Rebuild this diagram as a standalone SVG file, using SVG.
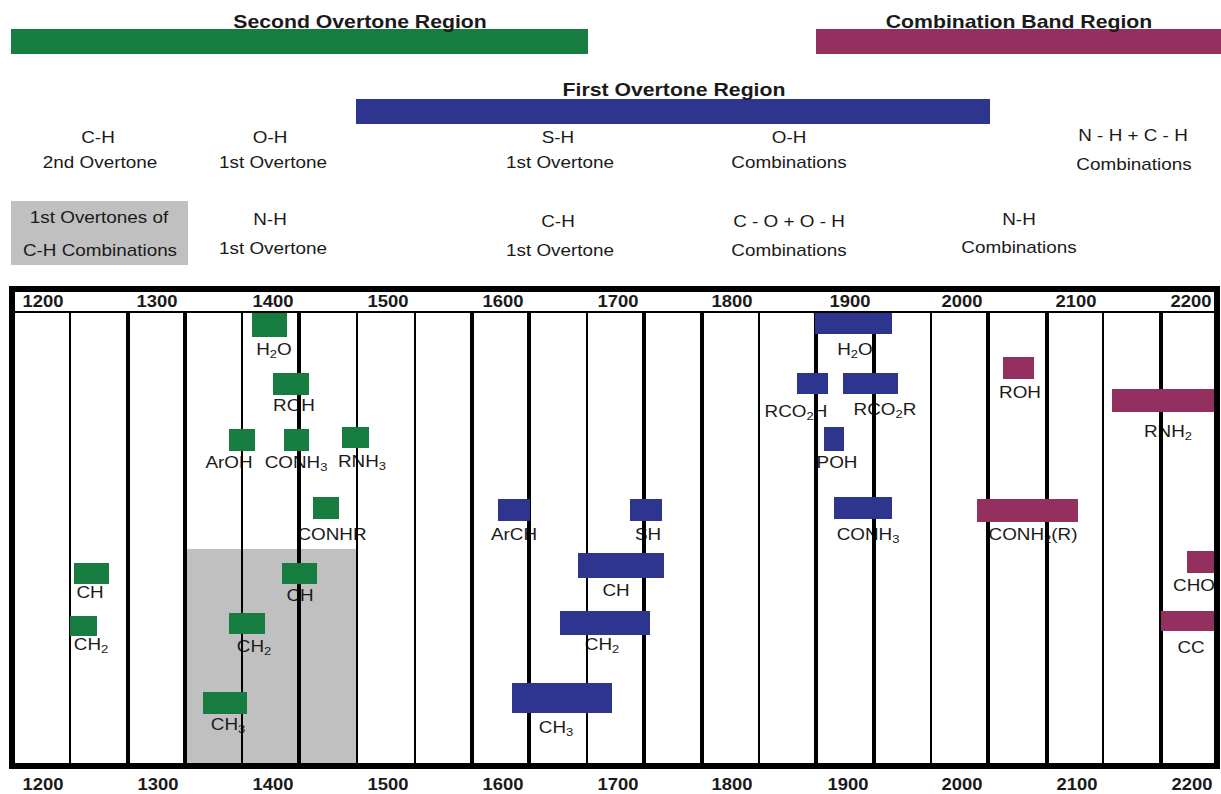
<svg xmlns="http://www.w3.org/2000/svg" width="1221" height="794" viewBox="0 0 1221 794">
<style>
text{font-family:"Liberation Sans",Arial,sans-serif;fill:#1a1a1a;text-anchor:middle}
.t{font-size:18px;font-weight:bold}
.l{font-size:16px}
.n{font-size:16px;font-weight:bold}
.s{font-size:11px}
.g{fill:#177c3f}
.b{fill:#2e358f}
.m{fill:#93305f}
.thin{stroke:#000;stroke-width:2}
.thick{stroke:#000;stroke-width:4}
</style>
<rect width="1221" height="794" fill="#fff"/>

<g id="regions">
  <g id="second-overtone">
    <rect class="g" x="11" y="29" width="577" height="25"/>
    <text class="t" transform="translate(360,28) scale(1.18,1)">Second Overtone Region</text>
  </g>
  <g id="combination-band">
    <rect class="m" x="816" y="29" width="405" height="25"/>
    <text class="t" transform="translate(1019,28) scale(1.18,1)">Combination Band Region</text>
  </g>
  <g id="first-overtone">
    <rect class="b" x="356" y="99" width="634" height="25"/>
    <text class="t" transform="translate(674,96) scale(1.18,1)">First Overtone Region</text>
  </g>
</g>

<g id="assignments">
  <g id="ch-2nd"><text class="l" transform="translate(98,143) scale(1.18,1)">C-H</text><text class="l" transform="translate(100,168) scale(1.18,1)">2nd Overtone</text></g>
  <g id="oh-1st"><text class="l" transform="translate(270,143) scale(1.18,1)">O-H</text><text class="l" transform="translate(273,168) scale(1.18,1)">1st Overtone</text></g>
  <g id="sh-1st"><text class="l" transform="translate(558,143) scale(1.18,1)">S-H</text><text class="l" transform="translate(560,168) scale(1.18,1)">1st Overtone</text></g>
  <g id="oh-comb"><text class="l" transform="translate(789,143) scale(1.18,1)">O-H</text><text class="l" transform="translate(789,168) scale(1.18,1)">Combinations</text></g>
  <g id="nhch-comb"><text class="l" transform="translate(1133,141) scale(1.18,1)">N - H + C - H</text><text class="l" transform="translate(1134,170) scale(1.18,1)">Combinations</text></g>
  <g id="ch-comb-1st">
    <rect x="11" y="201" width="177" height="64" fill="#c0c0c0"/>
    <text class="l" transform="translate(99,223) scale(1.18,1)">1st Overtones of</text>
    <text class="l" transform="translate(100,256) scale(1.18,1)">C-H Combinations</text>
  </g>
  <g id="nh-1st"><text class="l" transform="translate(270,225) scale(1.18,1)">N-H</text><text class="l" transform="translate(273,254) scale(1.18,1)">1st Overtone</text></g>
  <g id="ch-1st"><text class="l" transform="translate(558,227) scale(1.18,1)">C-H</text><text class="l" transform="translate(560,256) scale(1.18,1)">1st Overtone</text></g>
  <g id="cooh-comb"><text class="l" transform="translate(789,227) scale(1.18,1)">C - O + O - H</text><text class="l" transform="translate(789,256) scale(1.18,1)">Combinations</text></g>
  <g id="nh-comb"><text class="l" transform="translate(1019,225) scale(1.18,1)">N-H</text><text class="l" transform="translate(1019,253) scale(1.18,1)">Combinations</text></g>
</g>

<g id="chart">
  <rect x="187" y="549" width="171" height="216" fill="#c0c0c0"/>
  <g id="band-labels">
    <text class="l" transform="translate(274,355) scale(1.18,1)">H<tspan class="s" dy="3">2</tspan><tspan dy="-3">O</tspan></text>
    <text class="l" transform="translate(294,411) scale(1.18,1)">ROH</text>
    <text class="l" transform="translate(229,468) scale(1.18,1)">ArOH</text>
    <text class="l" transform="translate(296,468) scale(1.18,1)">CONH<tspan class="s" dy="3">3</tspan></text>
    <text class="l" transform="translate(362,467) scale(1.18,1)">RNH<tspan class="s" dy="3">3</tspan></text>
    <text class="l" transform="translate(332,540) scale(1.18,1)">CONHR</text>
    <text class="l" transform="translate(90,598) scale(1.18,1)">CH</text>
    <text class="l" transform="translate(91,650) scale(1.18,1)">CH<tspan class="s" dy="3">2</tspan></text>
    <text class="l" transform="translate(300,601) scale(1.18,1)">CH</text>
    <text class="l" transform="translate(254,652) scale(1.18,1)">CH<tspan class="s" dy="3">2</tspan></text>
    <text class="l" transform="translate(228,730) scale(1.18,1)">CH<tspan class="s" dy="3">3</tspan></text>
    <text class="l" transform="translate(514,540) scale(1.18,1)">ArCH</text>
    <text class="l" transform="translate(648,540) scale(1.18,1)">SH</text>
    <text class="l" transform="translate(616,596) scale(1.18,1)">CH</text>
    <text class="l" transform="translate(602,650) scale(1.18,1)">CH<tspan class="s" dy="3">2</tspan></text>
    <text class="l" transform="translate(556,733) scale(1.18,1)">CH<tspan class="s" dy="3">3</tspan></text>
    <text class="l" transform="translate(855,355) scale(1.18,1)">H<tspan class="s" dy="3">2</tspan><tspan dy="-3">O</tspan></text>
    <text class="l" transform="translate(796,417) scale(1.18,1)">RCO<tspan class="s" dy="3">2</tspan><tspan dy="-3">H</tspan></text>
    <text class="l" transform="translate(885,415) scale(1.18,1)">RCO<tspan class="s" dy="3">2</tspan><tspan dy="-3">R</tspan></text>
    <text class="l" transform="translate(837,468) scale(1.18,1)">POH</text>
    <text class="l" transform="translate(868,540) scale(1.18,1)">CONH<tspan class="s" dy="3">3</tspan></text>
    <text class="l" transform="translate(1020,398) scale(1.18,1)">ROH</text>
    <text class="l" transform="translate(1168,437) scale(1.18,1)">RNH<tspan class="s" dy="3">2</tspan></text>
    <text class="l" transform="translate(1033,540) scale(1.18,1)">CONH<tspan class="s" dy="3">2</tspan><tspan dy="-3">(R)</tspan></text>
    <text class="l" transform="translate(1194,591) scale(1.18,1)">CHO</text>
    <text class="l" transform="translate(1191,653) scale(1.18,1)">CC</text>
  </g>

  <g id="grid">
    <line class="thin" x1="70" y1="312" x2="70" y2="765"/>
    <line class="thick" x1="128" y1="312" x2="128" y2="765"/>
    <line class="thick" x1="185" y1="312" x2="185" y2="765"/>
    <line class="thin" x1="242" y1="312" x2="242" y2="765"/>
    <line class="thick" x1="299" y1="312" x2="299" y2="765"/>
    <line class="thin" x1="357" y1="312" x2="357" y2="765"/>
    <line class="thin" x1="415" y1="312" x2="415" y2="765"/>
    <line class="thick" x1="472" y1="312" x2="472" y2="765"/>
    <line class="thick" x1="529" y1="312" x2="529" y2="765"/>
    <line class="thin" x1="587" y1="312" x2="587" y2="765"/>
    <line class="thick" x1="644" y1="312" x2="644" y2="765"/>
    <line class="thick" x1="702" y1="312" x2="702" y2="765"/>
    <line class="thin" x1="759" y1="312" x2="759" y2="765"/>
    <line class="thick" x1="816" y1="312" x2="816" y2="765"/>
    <line class="thick" x1="874" y1="312" x2="874" y2="765"/>
    <line class="thin" x1="931" y1="312" x2="931" y2="765"/>
    <line class="thick" x1="988" y1="312" x2="988" y2="765"/>
    <line class="thick" x1="1047" y1="312" x2="1047" y2="765"/>
    <line class="thin" x1="1103" y1="312" x2="1103" y2="765"/>
    <line class="thick" x1="1161" y1="312" x2="1161" y2="765"/>
    <line class="thin" x1="14" y1="312" x2="1216" y2="312"/>
  </g>

  <g id="bands">
    <rect id="b-h2o-g" class="g" x="252" y="313" width="35" height="24"/>
    <rect id="b-roh-g" class="g" x="273" y="373" width="36" height="22"/>
    <rect id="b-aroh-g" class="g" x="229" y="429" width="26" height="22"/>
    <rect id="b-conh3-g" class="g" x="284" y="429" width="25" height="22"/>
    <rect id="b-rnh3-g" class="g" x="342" y="427" width="27" height="21"/>
    <rect id="b-conhr-g" class="g" x="313" y="497" width="26" height="22"/>
    <rect id="b-ch-g1" class="g" x="74" y="563" width="35" height="21"/>
    <rect id="b-ch2-g1" class="g" x="70" y="616" width="27" height="20"/>
    <rect id="b-ch-g2" class="g" x="282" y="563" width="35" height="21"/>
    <rect id="b-ch2-g2" class="g" x="229" y="613" width="36" height="21"/>
    <rect id="b-ch3-g" class="g" x="203" y="692" width="44" height="22"/>
    <rect id="b-arch-b" class="b" x="498" y="499" width="32" height="22"/>
    <rect id="b-sh-b" class="b" x="630" y="499" width="32" height="22"/>
    <rect id="b-ch-b" class="b" x="578" y="553" width="86" height="25"/>
    <rect id="b-ch2-b" class="b" x="560" y="611" width="90" height="24"/>
    <rect id="b-ch3-b" class="b" x="512" y="683" width="100" height="30"/>
    <rect id="b-h2o-b" class="b" x="815" y="313" width="77" height="21"/>
    <rect id="b-rco2h-b" class="b" x="797" y="373" width="31" height="21"/>
    <rect id="b-rco2r-b" class="b" x="843" y="373" width="55" height="21"/>
    <rect id="b-poh-b" class="b" x="824" y="427" width="20" height="24"/>
    <rect id="b-conh3-b" class="b" x="834" y="497" width="58" height="22"/>
    <rect id="b-roh-m" class="m" x="1003" y="357" width="31" height="22"/>
    <rect id="b-rnh2-m" class="m" x="1112" y="389" width="105" height="23"/>
    <rect id="b-conh2r-m" class="m" x="977" y="499" width="101" height="23"/>
    <rect id="b-cho-m" class="m" x="1187" y="551" width="32" height="22"/>
    <rect id="b-cc-m" class="m" x="1161" y="611" width="58" height="20"/>
  </g>

  <rect id="frame" x="12" y="289" width="1205" height="477" fill="none" stroke="#000" stroke-width="6"/>

  <g id="axis-top">
    <text class="n" transform="translate(43,307) scale(1.15,1)">1200</text>
    <text class="n" transform="translate(157,307) scale(1.15,1)">1300</text>
    <text class="n" transform="translate(273,307) scale(1.15,1)">1400</text>
    <text class="n" transform="translate(388,307) scale(1.15,1)">1500</text>
    <text class="n" transform="translate(503,307) scale(1.15,1)">1600</text>
    <text class="n" transform="translate(618,307) scale(1.15,1)">1700</text>
    <text class="n" transform="translate(732,307) scale(1.15,1)">1800</text>
    <text class="n" transform="translate(850,307) scale(1.15,1)">1900</text>
    <text class="n" transform="translate(962,307) scale(1.15,1)">2000</text>
    <text class="n" transform="translate(1076,307) scale(1.15,1)">2100</text>
    <text class="n" transform="translate(1191,307) scale(1.15,1)">2200</text>
  </g>
  <g id="axis-bottom">
    <text class="n" transform="translate(43,790) scale(1.15,1)">1200</text>
    <text class="n" transform="translate(158,790) scale(1.15,1)">1300</text>
    <text class="n" transform="translate(273,790) scale(1.15,1)">1400</text>
    <text class="n" transform="translate(388,790) scale(1.15,1)">1500</text>
    <text class="n" transform="translate(503,790) scale(1.15,1)">1600</text>
    <text class="n" transform="translate(618,790) scale(1.15,1)">1700</text>
    <text class="n" transform="translate(732,790) scale(1.15,1)">1800</text>
    <text class="n" transform="translate(848,790) scale(1.15,1)">1900</text>
    <text class="n" transform="translate(962,790) scale(1.15,1)">2000</text>
    <text class="n" transform="translate(1077,790) scale(1.15,1)">2100</text>
    <text class="n" transform="translate(1192,790) scale(1.15,1)">2200</text>
  </g>
</g>
</svg>
